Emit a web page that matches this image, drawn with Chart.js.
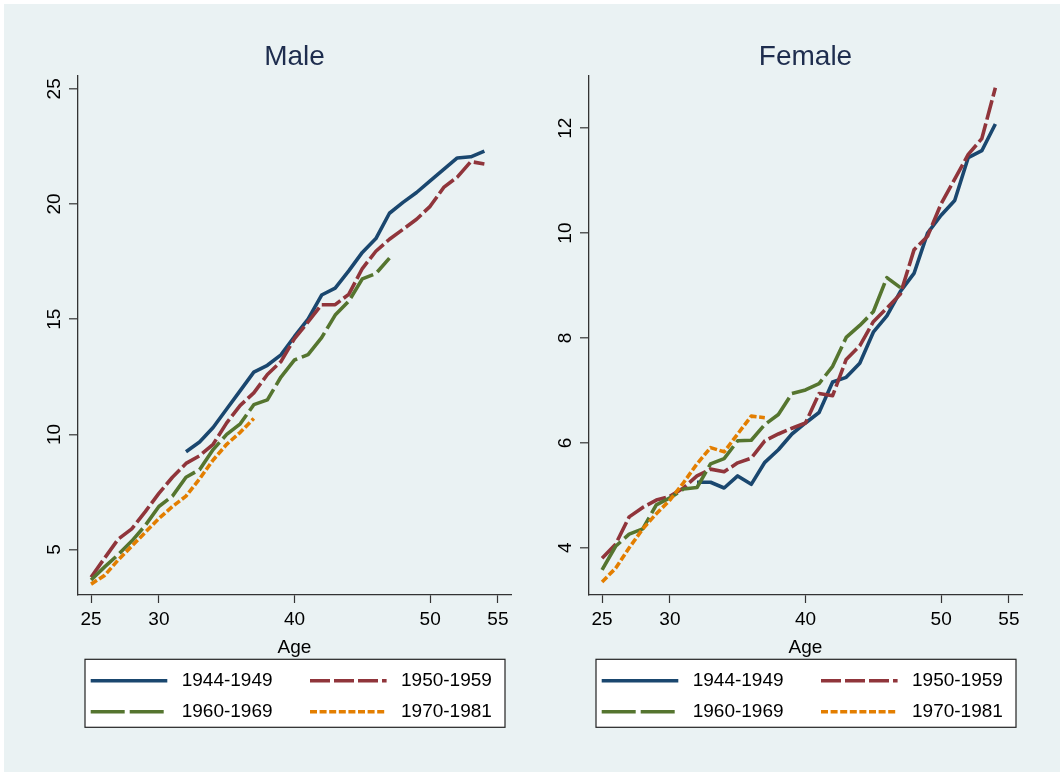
<!DOCTYPE html>
<html>
<head>
<meta charset="utf-8">
<script src="https://cdn.jsdelivr.net/npm/chart.js@4.4.1/dist/chart.umd.min.js"></script>
<style>
  html, body { margin: 0; padding: 0; background: #fff; }
  #wrap { position: relative; width: 1064px; height: 775px; overflow: hidden; }
  #bg { position: absolute; left: 4px; top: 4px; width: 1056px; height: 768px; background: #eaf2f3; }
  canvas { position: absolute; top: 0; }
  #male { left: 0; }
  #female { left: 511px; }
</style>
</head>
<body>
<div id="wrap">
  <div id="bg"></div>
  <canvas id="male" width="540" height="775"></canvas>
  <canvas id="female" width="540" height="775"></canvas>
</div>
<script>
// ages on the x axis
const ages = [25, 26, 27, 28, 29, 30, 31, 32, 33, 34, 35, 36, 37, 38, 39,
              40, 41, 42, 43, 44, 45, 46, 47, 48, 49, 50, 51, 52, 53, 54];
const cohorts = ['1944-1949', '1950-1959', '1960-1969', '1970-1981'];

// male
const male1944 = [null, null, null, null, null, null, null, 9.25, 9.67, 10.3, 11.1, 11.9, 12.7, 13.0, 13.45,
                  14.25, 15.0, 16.05, 16.35, 17.1, 17.9, 18.5, 19.6, 20.07, 20.5, 21.0, 21.5, 22.0, 22.05, 22.3];
const male1950 = [3.8, 4.63, 5.45, 5.9, 6.65, 7.44, 8.14, 8.74, 9.07, 9.57, 10.5, 11.26, 11.8, 12.6, 13.16,
                  14.16, 14.88, 15.63, 15.63, 16.08, 17.2, 17.95, 18.47, 18.9, 19.34, 19.9, 20.72, 21.17, 21.84, 21.74];
const male1960 = [3.68, 4.25, 4.78, 5.37, 6.05, 6.87, 7.32, 8.14, 8.47, 9.34, 10.0, 10.46, 11.29, 11.5, 12.49,
                  13.23, 13.46, 14.2, 15.18, 15.78, 16.75, 16.98, 17.65, null, null, null, null, null, null, null];
const male1970 = [3.5, 3.88, 4.55, 5.15, 5.75, 6.35, 6.87, 7.32, 8.07, 8.89, 9.57, 10.09, 10.69, null, null,
                  null, null, null, null, null, null, null, null, null, null, null, null, null, null, null];

// female
const female1944 = [null, null, null, null, null, null, null, 5.25, 5.25, 5.14, 5.37, 5.21, 5.63, 5.87, 6.17,
                    6.38, 6.58, 7.16, 7.25, 7.52, 8.11, 8.42, 8.89, 9.23, 10.0, 10.34, 10.62, 11.44, 11.57, 12.08];
const female1950 = [3.8, 4.07, 4.59, 4.77, 4.91, 4.98, 5.14, 5.37, 5.5, 5.45, 5.62, 5.71, 6.04, 6.17, 6.28,
                    6.38, 6.94, 6.9, 7.59, 7.85, 8.31, 8.57, 8.84, 9.68, 9.94, 10.56, 11.03, 11.5, 11.8, 12.77];
const female1960 = [3.58, 4.03, 4.26, 4.36, 4.82, 4.95, 5.12, 5.15, 5.6, 5.7, 6.04, 6.05, 6.35, 6.54, 6.94,
                    7.01, 7.13, 7.46, 8.01, 8.24, 8.5, 9.15, 8.96, null, null, null, null, null, null, null];
const female1970 = [3.35, 3.61, 4.0, 4.36, 4.65, 4.91, 5.24, 5.6, 5.91, 5.83, 6.17, 6.51, 6.48, null, null,
                    null, null, null, null, null, null, null, null, null, null, null, null, null, null, null];

// tick labels
const xTicks = [25, 30, 40, 50, 55];
const maleYTicks = [5, 10, 15, 20, 25];
const femaleYTicks = [4, 6, 8, 10, 12];

const FONT = '"Liberation Sans", Arial, sans-serif';
const colores = ['#1a476f', '#90353b', '#55752f', '#e37e00'];
const guiones = [[], [20, 4], [34, 5], [7, 2.6]];

// legend in a box, two columns, like stata
const boxLegend = {
  id: 'boxLegend',
  afterDraw(chart) {
    const ctx = chart.ctx;
    const a = chart.chartArea;
    const left = a.left + 7.5, top = a.bottom + 64.8, w = 420, h = 68;
    ctx.save();
    ctx.fillStyle = '#fff';
    ctx.fillRect(left, top, w, h);
    ctx.strokeStyle = '#222';
    ctx.lineWidth = 1.2;
    ctx.strokeRect(left, top, w, h);
    ctx.font = '19px ' + FONT;
    ctx.textBaseline = 'middle';
    chart.data.datasets.forEach((ds, i) => {
      const col = i % 2, row = Math.floor(i / 2);
      const x = left + 5.7 + col * 219.3;
      const y = top + 21.4 + row * 31;
      ctx.save();
      ctx.strokeStyle = ds.borderColor;
      ctx.lineWidth = ds.borderWidth;
      ctx.setLineDash(ds.borderDash);
      ctx.beginPath();
      ctx.moveTo(x, y);
      ctx.lineTo(x + 76.6, y);
      ctx.stroke();
      ctx.restore();
      ctx.fillStyle = '#000';
      ctx.fillText(ds.label, x + 91, y);
    });
    ctx.restore();
  }
};

function grafica(id, titulo, series, yTicks, yMin, yMax) {
  const ctx = document.getElementById(id).getContext('2d');
  return new Chart(ctx, {
    type: 'line',
    data: {
      datasets: series.map((s, i) => ({
        label: cohorts[i],
        data: ages.map((a, j) => ({ x: a, y: s[j] })),
        borderColor: colores[i],
        borderWidth: 3.6,
        borderDash: guiones[i],
        borderCapStyle: 'butt',
        borderJoinStyle: 'round',
        pointRadius: 0,
        tension: 0,
        fill: false,
        order: 4 - i
      }))
    },
    options: {
      responsive: false,
      animation: false,
      devicePixelRatio: 1,
      events: [],
      layout: { padding: { left: 35, right: -14, top: 0, bottom: 110.5 } },
      plugins: {
        legend: { display: false },
        tooltip: { enabled: false },
        title: {
          display: true,
          text: titulo,
          color: '#1e2d4e',
          font: { family: FONT, size: 28, weight: 'normal' },
          padding: { top: 40.4, bottom: 1.7 }
        }
      },
      scales: {
        x: {
          type: 'linear',
          min: 24,
          max: 56,
          afterBuildTicks: s => { s.ticks = xTicks.map(v => ({ value: v })); },
          afterFit: s => { s.height = 70; s.paddingLeft = 0; s.paddingRight = 0; },
          border: { display: true, color: '#333', width: 1.3 },
          grid: { drawOnChartArea: false, tickColor: '#333', tickWidth: 1.2, tickLength: 8.5 },
          ticks: { padding: 5, color: '#000', font: { family: FONT, size: 19 }, maxRotation: 0, autoSkip: false },
          title: { display: true, text: 'Age', color: '#000', font: { family: FONT, size: 19 }, padding: { top: 0, bottom: 5.6 } }
        },
        y: {
          type: 'linear',
          min: yMin,
          max: yMax,
          afterBuildTicks: s => { s.ticks = yTicks.map(v => ({ value: v })); },
          afterFit: s => { s.width = 42.5; s.paddingTop = 0; s.paddingBottom = 0; },
          border: { display: true, color: '#333', width: 1.3 },
          grid: { color: '#eaf2f3', lineWidth: 1.6, tickColor: '#333', tickWidth: 1.2, tickLength: 8.5 },
          ticks: { minRotation: 90, maxRotation: 90, crossAlign: 'center', padding: 3.9, color: '#000',
                   font: { family: FONT, size: 19 }, autoSkip: false }
        },
        // empty right axis, same width as the left one, so title and legend sit centred on the plot
        y2: {
          type: 'linear',
          position: 'right',
          min: yMin,
          max: yMax,
          afterFit: s => { s.width = 42.5; s.paddingTop = 0; s.paddingBottom = 0; },
          border: { display: false },
          grid: { display: false },
          ticks: { display: false }
        }
      }
    },
    plugins: [boxLegend]
  });
}

grafica('male', 'Male', [male1944, male1950, male1960, male1970], maleYTicks, 3.05, 25.57);
grafica('female', 'Female', [female1944, female1950, female1960, female1970], femaleYTicks, 3.11, 13.0);
</script>
</body>
</html>
